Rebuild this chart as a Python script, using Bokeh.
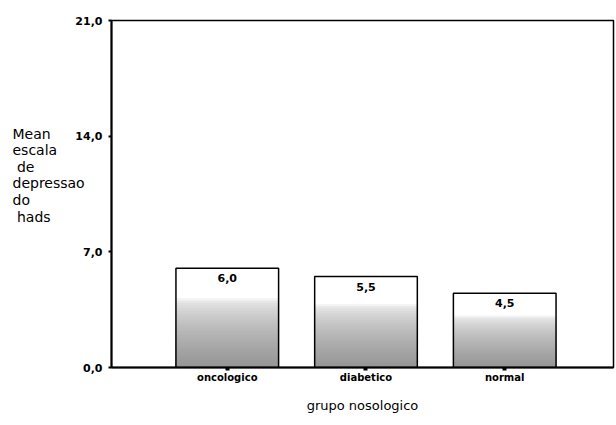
from bokeh.plotting import figure
from bokeh.models import FixedTicker, Label, ColumnDataSource
from bokeh.core.properties import value
from bokeh.embed import file_html
from bokeh.resources import INLINE

# ---- data ----
categories = ["oncologico", "diabetico", "normal"]
means = [6.0, 5.5, 4.5]
mean_labels = ["6,0", "5,5", "4,5"]
y_ticks = [0.0, 7.0, 14.0, 21.0]
y_tick_labels = ["0,0", "7,0", "14,0", "21,0"]
x_title = "grupo nosologico"
y_title_lines = ["Mean", "escala", "\u00a0de", "depressao", "do", "\u00a0hads"]

xs = list(range(1, len(categories) + 1))

FONT = "DejaVu Sans"
W, H = 616, 425
LEFT, TOP, RIGHT, BOTTOM = 110, 20, 3, 58
PX_PER_UNIT_Y = (H - TOP - BOTTOM) / 21.0
X0 = 1 - (226 - LEFT) / 139.0
X1 = X0 + (W - LEFT - RIGHT) / 139.0

p = figure(width=W, height=H, x_range=(X0, X1), y_range=(0, 21),
           output_backend="svg", toolbar_location=None,
           min_border_left=LEFT, min_border_right=RIGHT,
           min_border_top=TOP, min_border_bottom=BOTTOM)

p.xgrid.visible = False
p.ygrid.visible = False
p.background_fill_color = "white"
p.border_fill_color = "white"
p.outline_line_color = "black"
p.outline_line_width = 1.5
p.outline_line_alpha = 1.0

# stippled-look gradient fill: layered bars, lightest tallest first
N = 28
top_frac = 0.70
light, dark = 244, 150
bar_w = 0.74
for k in range(N):
    f = top_frac * (1 - k / N)
    t = k / (N - 1)
    g = int(round(light + (dark - light) * (t ** 0.6)))
    col = "#%02x%02x%02x" % (g, g, g)
    src = ColumnDataSource(dict(x=xs, top=[m * f for m in means]))
    p.vbar(x="x", top="top", bottom=0, width=bar_w, source=src,
           fill_color=col, line_color=None)

# bar outlines
src_bars = ColumnDataSource(dict(x=xs, top=means, lab=mean_labels,
                                 ly=[m - 6 / PX_PER_UNIT_Y for m in means]))
p.vbar(x="x", top="top", bottom=0, width=bar_w, source=src_bars,
       fill_color=None, line_color="black", line_width=1.5)

p.text(x="x", y="ly", text="lab", source=src_bars, text_align="center",
       text_baseline="top", text_font=value(FONT), text_font_style="bold",
       text_font_size="11px", text_color="black")

# y axis
ya = p.yaxis[0]
ya.ticker = FixedTicker(ticks=y_ticks)
ya.major_label_overrides = {t: l for t, l in zip(y_ticks, y_tick_labels)}
ya.minor_tick_line_color = None
ya.major_tick_in = 0
ya.major_tick_out = 3
ya.major_tick_line_width = 2
ya.axis_line_width = 2
ya.major_label_standoff = 6
ya.major_label_text_font = FONT
ya.major_label_text_font_style = "bold"
ya.major_label_text_font_size = "11px"
ya.major_label_text_color = "black"

# x axis
xa = p.xaxis[0]
xa.ticker = FixedTicker(ticks=xs)
xa.major_label_overrides = {x: c for x, c in zip(xs, categories)}
xa.minor_tick_line_color = None
xa.major_tick_in = 0
xa.major_tick_out = 3
xa.major_tick_line_width = 4
xa.axis_line_width = 2
xa.major_label_standoff = 1
xa.major_label_text_font = FONT
xa.major_label_text_font_style = "bold"
xa.major_label_text_font_size = "10px"
xa.major_label_text_color = "black"
xa.axis_label = x_title
xa.axis_label_standoff = 12
xa.axis_label_text_font = FONT
xa.axis_label_text_font_style = "normal"
xa.axis_label_text_font_size = "13px"
xa.axis_label_text_color = "black"

# horizontal multi-line y title, placed in the left side panel
frame_h = H - TOP - BOTTOM
p.add_layout(Label(x=12, y=frame_h - (125 - TOP),
                   x_units="screen", y_units="screen",
                   text="\n".join(y_title_lines), text_baseline="top",
                   text_align="left", text_line_height=1.04,
                   text_font=FONT, text_font_size="14px",
                   text_color="black"), "left")

open("out.html", "w").write(file_html(p, INLINE))
